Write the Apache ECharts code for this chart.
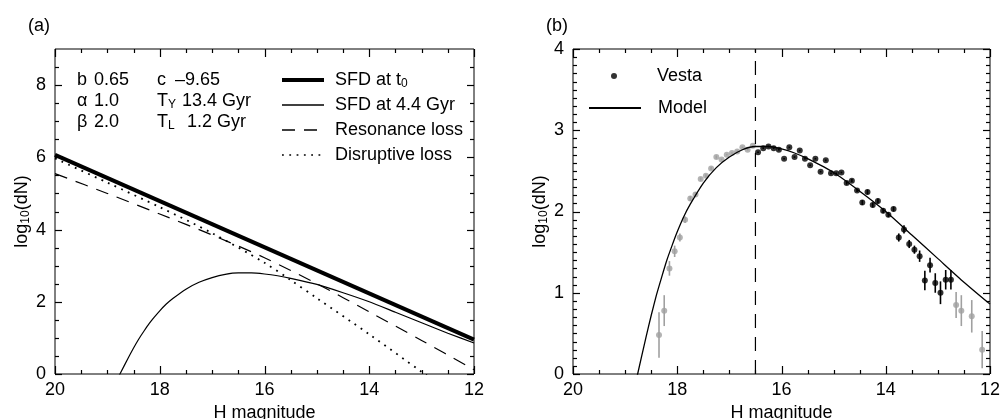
<!DOCTYPE html>
<html>
<head>
<meta charset="utf-8">
<script src="https://cdn.jsdelivr.net/npm/echarts@6/dist/echarts.min.js"></script>
<style>
  html, body { margin: 0; padding: 0; background: #fff; }
  #chart { width: 1002px; height: 419px; }
</style>
</head>
<body>
<div id="chart"></div>
<script>
// ---- panel (a): model size distributions ----
const sfdT0H = [20, 12];
const sfdT0Y = [6.07, 0.95];

// evolved SFD (same curve is the "Model" in panel b)
const modelH = [18.8, 18.76, 18.6, 18.5, 18.4, 18.3, 18.2, 18.1, 18.0, 17.88, 17.75, 17.5, 17.25, 17.0, 16.75, 16.5, 16.25, 16.0, 15.75, 15.5, 15.0, 14.5, 14.0, 13.5, 13.0, 12.5, 12.0];
const modelY = [-0.12, 0, 0.45, 0.72, 0.97, 1.19, 1.40, 1.58, 1.75, 1.93, 2.09, 2.35, 2.54, 2.67, 2.76, 2.80, 2.80, 2.77, 2.72, 2.65, 2.48, 2.25, 2.0, 1.71, 1.42, 1.13, 0.86];

const resonanceH = [20, 19, 18, 17, 16, 15, 14, 13, 12];
const resonanceY = [5.55, 5.0, 4.43, 3.85, 3.22, 2.5, 1.72, 0.93, 0.12];

const disruptiveH = [20, 19, 18, 17, 16, 15.5, 15, 14, 13, 12.94, 12.5];
const disruptiveY = [5.97, 5.3, 4.62, 3.9, 3.08, 2.6, 2.1, 1.1, 0.06, 0, -0.45];

const paramNames1 = ['b', 'α', 'β'];
const paramVals1 = ['0.65', '1.0', '2.0'];
const paramNames2 = ['c', 'T{s|Y}', 'T{s|L}'];
const paramVals2 = ['–9.65', '13.4 Gyr', '1.2 Gyr'];

// ---- panel (b): Vesta family ----
const vestaH = [16.45, 16.35, 16.25, 16.15, 16.05, 15.95, 15.85, 15.75, 15.65, 15.55, 15.45, 15.35, 15.25, 15.15, 15.05, 14.95, 14.85, 14.75, 14.65, 14.55, 14.45, 14.35, 14.25, 14.15, 14.05, 13.95, 13.85, 13.75, 13.65, 13.55, 13.45, 13.35, 13.25, 13.15, 13.05, 12.95, 12.85, 12.75];
const vestaY = [2.73, 2.78, 2.80, 2.78, 2.76, 2.65, 2.79, 2.67, 2.75, 2.65, 2.57, 2.65, 2.49, 2.63, 2.47, 2.47, 2.48, 2.35, 2.38, 2.26, 2.11, 2.24, 2.08, 2.13, 2.01, 1.96, 2.03, 1.68, 1.78, 1.60, 1.53, 1.45, 1.15, 1.34, 1.12, 1.00, 1.16, 1.16];
const vestaErr = [0.01, 0.01, 0.01, 0.01, 0.01, 0.01, 0.01, 0.01, 0.01, 0.01, 0.01, 0.01, 0.01, 0.01, 0.01, 0.01, 0.01, 0.02, 0.02, 0.02, 0.03, 0.03, 0.03, 0.03, 0.03, 0.03, 0.03, 0.05, 0.05, 0.05, 0.05, 0.07, 0.12, 0.09, 0.12, 0.14, 0.12, 0.12];

// excluded bins (grey)
const greyH = [18.35, 18.25, 18.15, 18.05, 17.95, 17.85, 17.75, 17.65, 17.55, 17.45, 17.35, 17.25, 17.15, 17.05, 16.95, 16.85, 16.75, 16.65, 16.55, 12.65, 12.55, 12.45, 12.35, 12.15];
const greyY = [0.48, 0.78, 1.30, 1.51, 1.68, 1.90, 2.16, 2.21, 2.40, 2.44, 2.53, 2.67, 2.64, 2.70, 2.72, 2.74, 2.79, 2.76, 2.81, 0.85, 0.78, -0.03, 0.71, 0.30];
const greyErr = [0.28, 0.19, 0.09, 0.07, 0.05, 0.04, 0.03, 0.03, 0.02, 0.02, 0.02, 0.02, 0.01, 0.01, 0.01, 0.01, 0.01, 0.01, 0.01, 0.16, 0.19, 0.0, 0.20, 0.23];

const peakH = 16.5;

// ---- tick positions (inward ticks on all four sides) ----
const xMajor = [12, 14, 16, 18, 20];
const xMinor = [12.5, 13, 13.5, 14.5, 15, 15.5, 16.5, 17, 17.5, 18.5, 19, 19.5];
const yMajorA = [0, 2, 4, 6, 8];
const yMinorA = [0.5, 1, 1.5, 2.5, 3, 3.5, 4.5, 5, 5.5, 6.5, 7, 7.5, 8.5];
const yMajorB = [0, 1, 2, 3, 4];
const yMinorB = [0.1, 0.2, 0.3, 0.4, 0.5, 0.6, 0.7, 0.8, 0.9, 1.1, 1.2, 1.3, 1.4, 1.5, 1.6, 1.7, 1.8, 1.9,
                 2.1, 2.2, 2.3, 2.4, 2.5, 2.6, 2.7, 2.8, 2.9, 3.1, 3.2, 3.3, 3.4, 3.5, 3.6, 3.7, 3.8, 3.9];

const FONT = 'Liberation Sans, Arial, Helvetica, sans-serif';
const pairs = (xs, ys) => xs.map((x, i) => [x, ys[i]]);
const errRows = (xs, ys, es) => xs.map((x, i) => [x, ys[i] - es[i], ys[i] + es[i]]);
const subRich = { s: { fontSize: 12, fontFamily: FONT, verticalAlign: 'bottom', lineHeight: 12 } };

const GRID_A = { left: 55, top: 49, width: 419, height: 325 };
const GRID_B = { left: 573, top: 49, width: 417, height: 325 };

function xAx(grid) {
    return {
        type: 'value', gridIndex: grid, position: 'bottom',
        min: 12, max: 20, interval: 2, inverse: true,
        axisLine: { show: false }, axisTick: { show: false },
        axisLabel: { show: true, margin: 7, color: '#000', fontSize: 18, fontFamily: FONT },
        splitLine: { show: false },
        name: 'H magnitude', nameLocation: 'middle', nameGap: 28,
        nameTextStyle: { color: '#000', fontSize: 18, fontFamily: FONT }
    };
}

function yAx(grid, max, interval) {
    return {
        type: 'value', gridIndex: grid, position: 'left',
        min: 0, max: max, interval: interval,
        axisLine: { show: false }, axisTick: { show: false },
        axisLabel: {
            show: true, margin: 9, color: '#000', fontSize: 18, fontFamily: FONT,
            formatter: v => (v % interval === 0 && v !== 9 ? String(v) : '')
        },
        splitLine: { show: false },
        name: 'log{s|10}(dN)', nameLocation: 'middle', nameGap: 22,
        nameTextStyle: { color: '#000', fontSize: 18, fontFamily: FONT, lineHeight: 20, rich: subRich }
    };
}

const errorBars = (color) => function (params, api) {
    const x = api.value(0);
    const lo = Math.max(api.value(1), 0);
    const hi = api.value(2);
    if (hi <= lo) return null;
    const p1 = api.coord([x, lo]);
    const p2 = api.coord([x, hi]);
    return {
        type: 'line',
        shape: { x1: p1[0], y1: p1[1], x2: p2[0], y2: p2[1] },
        style: { stroke: color, lineWidth: 1.6 }
    };
};

const paramText = [];
const rowY = [80, 101, 122];
const col4X = [175, 182, 187];
rowY.forEach((y, i) => {
    const base = { fill: '#000', fontSize: 18, fontFamily: FONT, verticalAlign: 'middle', lineHeight: 20, rich: subRich };
    paramText.push({ type: 'text', x: 77, y: y, style: Object.assign({ text: paramNames1[i] }, base) });
    paramText.push({ type: 'text', x: 94, y: y, style: Object.assign({ text: paramVals1[i] }, base) });
    paramText.push({ type: 'text', x: 157, y: y, style: Object.assign({ text: paramNames2[i] }, base) });
    paramText.push({ type: 'text', x: col4X[i], y: y, style: Object.assign({ text: paramVals2[i] }, base) });
});

const noSymbol = { color: 'rgba(0,0,0,0)', borderColor: 'rgba(0,0,0,0)', borderWidth: 0 };
const legendText = { color: '#000', fontSize: 18, fontFamily: FONT, lineHeight: 20, rich: subRich };
const gridBox = { show: true, borderColor: '#000', borderWidth: 1, backgroundColor: 'rgba(0,0,0,0)', outerBoundsMode: 'none' };

const chart = echarts.init(document.getElementById('chart'), null, { renderer: 'canvas' });
chart.setOption({
    animation: false,
    backgroundColor: '#fff',
    textStyle: { fontFamily: FONT, color: '#000' },
    title: [
        { text: '(a)', left: 23, top: 12, textStyle: { fontSize: 18, fontWeight: 'normal', color: '#000', fontFamily: FONT } },
        { text: '(b)', left: 541, top: 12, textStyle: { fontSize: 18, fontWeight: 'normal', color: '#000', fontFamily: FONT } }
    ],
    grid: [Object.assign({}, GRID_A, gridBox), Object.assign({}, GRID_B, gridBox)],
    xAxis: [xAx(0), xAx(1)],
    yAxis: [yAx(0, 9, 2), yAx(1, 4, 1)],
    legend: [
        {
            data: [
                { name: 'SFD at t0', lineStyle: { width: 4 } },
                { name: 'SFD at 4.4 Gyr', lineStyle: { width: 1.3 } },
                { name: 'Resonance loss', lineStyle: { width: 1.3 } },
                { name: 'Disruptive loss', lineStyle: { width: 1.6 } }
            ],
            orient: 'vertical', left: 280, top: 70, padding: 0,
            itemWidth: 42, itemHeight: 14, itemGap: 5,
            selectedMode: false, itemStyle: noSymbol,
            formatter: n => (n === 'SFD at t0' ? 'SFD at t{s|0}' : n),
            textStyle: Object.assign({ padding: [0, 0, 0, 6] }, legendText)
        },
        {
            data: ['Vesta'], orient: 'vertical', left: 611, top: 66, padding: 0,
            itemWidth: 52, itemHeight: 6, selectedMode: false,
            textStyle: Object.assign({ padding: [0, 0, 0, 12] }, legendText)
        },
        {
            data: ['Model'], orient: 'vertical', left: 588, top: 98, padding: 0,
            itemWidth: 52, itemHeight: 14, selectedMode: false, itemStyle: noSymbol,
            textStyle: Object.assign({ padding: [0, 0, 0, 12] }, legendText)
        }
    ],
    graphic: paramText,
    series: [
        {
            name: 'SFD at t0', type: 'line', xAxisIndex: 0, yAxisIndex: 0,
            data: pairs(sfdT0H, sfdT0Y), symbol: 'none', clip: true,
            lineStyle: { color: '#000', width: 4 }, itemStyle: { color: '#000' }
        },
        {
            name: 'SFD at 4.4 Gyr', type: 'line', xAxisIndex: 0, yAxisIndex: 0,
            data: pairs(modelH, modelY), symbol: 'none', clip: true, smooth: 0.2,
            lineStyle: { color: '#000', width: 1.2 }, itemStyle: { color: '#000' }
        },
        {
            name: 'Resonance loss', type: 'line', xAxisIndex: 0, yAxisIndex: 0,
            data: pairs(resonanceH, resonanceY), symbol: 'none', clip: true, smooth: 0.3,
            lineStyle: { color: '#000', width: 1.2, type: [13, 9] }, itemStyle: { color: '#000' }
        },
        {
            name: 'Disruptive loss', type: 'line', xAxisIndex: 0, yAxisIndex: 0,
            data: pairs(disruptiveH, disruptiveY), symbol: 'none', clip: true, smooth: 0.3,
            lineStyle: { color: '#000', width: 1.8, type: [1.8, 5.5] }, itemStyle: { color: '#000' }
        },
        {
            name: 'peak', type: 'line', xAxisIndex: 1, yAxisIndex: 1,
            data: [[peakH, 0], [peakH, 4]], symbol: 'none', silent: true,
            lineStyle: { color: '#000', width: 1.2, type: [14, 9] }
        },
        {
            name: 'Model', type: 'line', xAxisIndex: 1, yAxisIndex: 1,
            data: pairs(modelH, modelY), symbol: 'none', clip: true, smooth: 0.2,
            lineStyle: { color: '#000', width: 1.3 }, itemStyle: { color: '#000' }
        },
        {
            name: 'greyErr', type: 'custom', xAxisIndex: 1, yAxisIndex: 1,
            data: errRows(greyH, greyY, greyErr), encode: { x: 0, y: [1, 2] },
            renderItem: errorBars('#a0a0a0'), clip: true, silent: true
        },
        {
            name: 'vestaErr', type: 'custom', xAxisIndex: 1, yAxisIndex: 1,
            data: errRows(vestaH, vestaY, vestaErr), encode: { x: 0, y: [1, 2] },
            renderItem: errorBars('#000'), clip: true, silent: true
        },
        {
            name: 'grey', type: 'scatter', xAxisIndex: 1, yAxisIndex: 1,
            data: pairs(greyH, greyY), symbol: 'circle', symbolSize: 6, clip: true,
            itemStyle: { color: '#a0a0a0' }
        },
        {
            name: 'Vesta', type: 'scatter', xAxisIndex: 1, yAxisIndex: 1,
            data: pairs(vestaH, vestaY), symbol: 'circle', symbolSize: 6, clip: true,
            itemStyle: { color: '#000' }
        }
    ]
});

// inward tick marks: positions come from the axes' own scales via convertToPixel
function tickGraphics(gridIndex, yMax, yMaj, yMin) {
    const out = [];
    const px = (x, y) => chart.convertToPixel({ gridIndex: gridIndex }, [x, y]);
    const line = (x1, y1, x2, y2) => out.push({
        type: 'line', silent: true, z: 100,
        shape: { x1: x1, y1: y1, x2: x2, y2: y2 },
        style: { stroke: '#000', lineWidth: 1.2 }
    });
    const addX = (vals, len) => vals.forEach(v => {
        const b = px(v, 0), t = px(v, yMax);
        const x = Math.round(b[0]) + 0.5;
        line(x, b[1], x, b[1] - len);
        line(x, t[1], x, t[1] + len);
    });
    const addY = (vals, len) => vals.forEach(v => {
        const l = px(20, v), r = px(12, v);
        const y = Math.round(l[1]) + 0.5;
        line(l[0], y, l[0] + len, y);
        line(r[0], y, r[0] - len, y);
    });
    addX(xMajor, 8); addX(xMinor, 4);
    addY(yMaj, 7); addY(yMin, 4);
    return out;
}

chart.setOption({
    graphic: paramText.concat(tickGraphics(0, 9, yMajorA, yMinorA), tickGraphics(1, 4, yMajorB, yMinorB))
});
</script>
</body>
</html>
